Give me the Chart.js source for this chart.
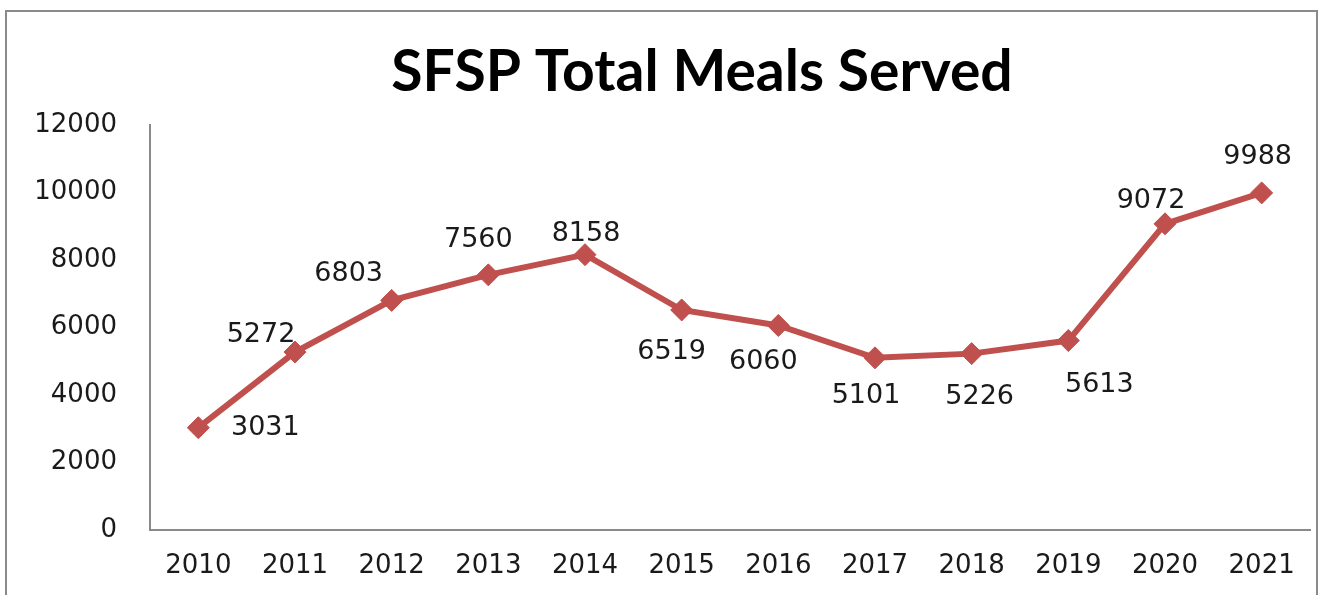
<!DOCTYPE html>
<html>
<head>
<meta charset="utf-8">
<title>SFSP Total Meals Served</title>
<script src="https://cdn.jsdelivr.net/npm/chart.js@4"></script>
<style>
  html, body { margin: 0; padding: 0; background: #fff; overflow: hidden; }
  #wrap { position: relative; width: 1322px; height: 595px; }
  #frame {
    position: absolute; left: 5px; top: 10px; width: 1309px; height: 620px;
    border: 2px solid #8a8a8a; pointer-events: none;
  }
  canvas { position: absolute; left: 0; top: 0; }
</style>
</head>
<body>
<div id="wrap">
  <canvas id="myChart" width="1322" height="595"></canvas>
  <div id="frame"></div>
</div>
<script>
// --- Data ---
const years = ['2010', '2011', '2012', '2013', '2014', '2015', '2016', '2017', '2018', '2019', '2020', '2021'];
const mealsServed = [3031, 5272, 6803, 7560, 8158, 6519, 6060, 5101, 5226, 5613, 9072, 9988];
const yTicks = [0, 2000, 4000, 6000, 8000, 10000, 12000];

// --- Label nudges (dx, dy in px from the marker) ---
const labelNudge = [
  [67, 0], [-34, -17], [-43, -26], [-10, -35], [1, -21], [-10, 42],
  [-15, 37], [-9, 38], [8, 43], [31, 44], [-14, -23], [-4, -36]
];

const lineColor = '#C0504D';
const textColor = '#1a1a1a';
const axisColor = '#8a8a8a';
const labelFont = '27px "DejaVu Sans"';

// --- Title drawn by hand so it can sit where the original does ---
const titlePlugin = {
  id: 'titleText',
  afterDraw(chart) {
    const c = chart.ctx;
    c.save();
    c.font = 'bold 57px Lato';
    c.fillStyle = '#000';
    c.textAlign = 'center';
    c.textBaseline = 'alphabetic';
    c.fillText('SFSP Total Meals Served', 702, 91);
    c.restore();
  }
};

// --- Value labels next to each point ---
const valueLabels = {
  id: 'valueLabels',
  afterDatasetsDraw(chart) {
    const c = chart.ctx;
    const meta = chart.getDatasetMeta(0);
    c.save();
    c.font = labelFont;
    c.fillStyle = textColor;
    c.textAlign = 'center';
    c.textBaseline = 'middle';
    meta.data.forEach((pt, i) => {
      const [dx, dy] = labelNudge[i];
      c.fillText(String(mealsServed[i]), pt.x + dx, pt.y + dy);
    });
    c.restore();
  }
};

const ctx = document.getElementById('myChart').getContext('2d');
const mealsChart = new Chart(ctx, {
  type: 'line',
  data: {
    labels: years,
    datasets: [{
      label: 'Total Meals Served',
      data: mealsServed,
      borderColor: lineColor,
      backgroundColor: lineColor,
      borderWidth: 6,
      pointStyle: 'rectRot',
      pointRadius: 11,
      pointBorderWidth: 1,
      tension: 0
    }]
  },
  options: {
    responsive: false,
    animation: false,
    layout: { padding: { top: 125, right: 4, left: 0, bottom: 0 } },
    plugins: {
      legend: { display: false },
      title: { display: false },
      tooltip: { enabled: false }
    },
    scales: {
      x: {
        offset: true,
        grid: { display: false, drawTicks: false },
        border: { display: true, color: axisColor, width: 2 },
        ticks: { color: textColor, font: { family: 'DejaVu Sans', size: 26 }, padding: 21, maxRotation: 0 },
        afterFit(scale) { scale.height = 65; }
      },
      y: {
        min: 0,
        max: 12000,
        grid: { display: false, drawTicks: false },
        border: { display: true, color: axisColor, width: 2 },
        ticks: {
          color: textColor,
          font: { family: 'DejaVu Sans', size: 26 },
          padding: 33,
          callback: v => String(v)
        },
        afterBuildTicks(scale) { scale.ticks = yTicks.map(v => ({ value: v })); },
        afterFit(scale) { scale.width = 150; }
      }
    }
  },
  plugins: [valueLabels, titlePlugin]
});
</script>
</body>
</html>
